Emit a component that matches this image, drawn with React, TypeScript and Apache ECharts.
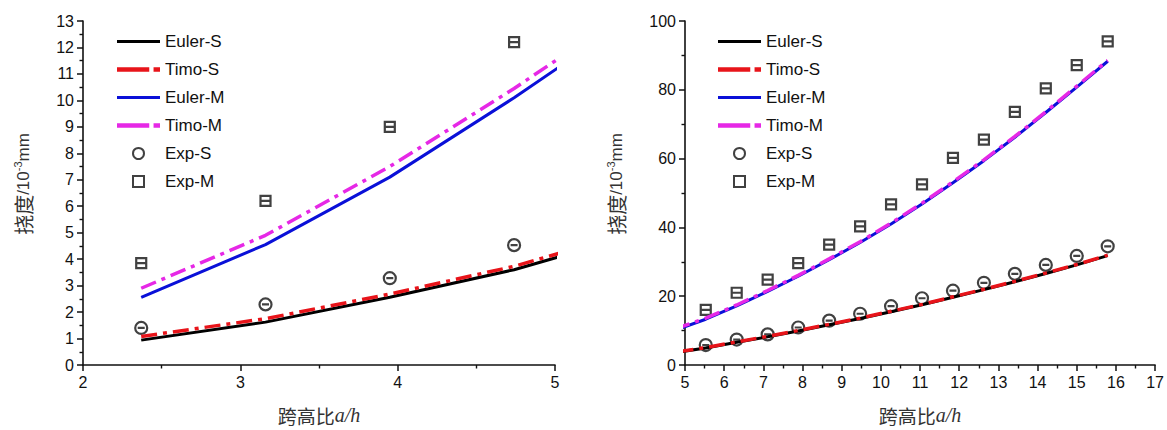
import React, { useEffect, useRef } from 'react';
import * as echarts from 'echarts';

// span-to-depth ratio a/h of the tested beams
const spanRatio = [2.37, 3.16, 3.95, 4.74, 5.53, 6.32, 7.11, 7.89, 8.68, 9.47, 10.26, 11.05, 11.84, 12.63, 13.42, 14.21, 15.0, 15.79];
// deflection, 10^-3 mm
const eulerS = [0.94, 1.62, 2.56, 3.6, 4.95, 6.6, 8.2, 9.9, 11.7, 13.5, 15.5, 17.5, 19.7, 21.9, 24.2, 26.6, 29.1, 31.8];
const timoS = [1.08, 1.75, 2.68, 3.73, 5.08, 6.72, 8.33, 10.02, 11.82, 13.62, 15.62, 17.62, 19.82, 22.02, 24.32, 26.72, 29.22, 31.92];
const eulerM = [2.56, 4.55, 7.1, 10.1, 13.3, 17.2, 21.4, 25.8, 30.6, 35.6, 41.0, 46.8, 53.0, 59.4, 66.2, 73.4, 80.8, 88.3];
const timoM = [2.9, 4.9, 7.5, 10.45, 13.6, 17.45, 21.65, 26.05, 30.85, 35.85, 41.25, 47.05, 53.25, 59.65, 66.45, 73.65, 81.05, 88.55];
const expS = [1.4, 2.29, 3.28, 4.53, 5.8, 7.4, 8.9, 10.9, 12.9, 14.9, 17.1, 19.4, 21.6, 23.9, 26.5, 29.1, 31.7, 34.5];
const expM = [3.85, 6.2, 9.0, 12.2, 16.0, 21.0, 24.8, 29.6, 35.0, 40.3, 46.7, 52.5, 60.2, 65.5, 73.6, 80.4, 87.2, 94.1];

const seriesNames = ['Euler-S', 'Timo-S', 'Euler-M', 'Timo-M', 'Exp-S', 'Exp-M'];

// axis ranges
const leftX = { min: 2, max: 5, interval: 1 };
const leftY = { min: 0, max: 13, interval: 1 };
const rightX = { min: 5, max: 17, interval: 1 };
const rightY = { min: 0, max: 100, interval: 20 };

const BLACK = '#000000';
const RED = '#e8141a';
const BLUE = '#0a10d8';
const MAGENTA = '#e628e6';
const INK = '#111111';
const SANS = '"Liberation Sans", Arial, sans-serif';
const CJK = '"Noto Sans CJK SC", sans-serif';

const DASH_DOT = [16, 6, 4, 6];
const CIRCLE_SYM = 'path://M0,6 A6,6 0 1 1 12,6 A6,6 0 1 1 0,6 Z M2.5,6 L9.5,6';
const SQUARE_SYM = 'path://M0,0 L10,0 L10,10 L0,10 Z M0,5 L10,5';
const SOLID_ICON = 'path://M0,0 H43 V3 H0 Z';
const DASHDOT_ICON = 'path://M0,0 H30 V4 H0 Z M34,0 H40 V4 H34 Z';
const SQUARE_ICON = 'path://M0,0 H10 V10 H0 Z';

const pairs = (xs: number[], ys: number[]) => xs.map((x, i) => [x, ys[i]]);

function buildSeries(idx: number) {
  const common = { xAxisIndex: idx, yAxisIndex: idx, clip: true, silent: true };
  return [
    { ...common, name: seriesNames[0], type: 'line', symbol: 'none', data: pairs(spanRatio, eulerS), itemStyle: { color: BLACK }, lineStyle: { color: BLACK, width: 3 } },
    { ...common, name: seriesNames[1], type: 'line', symbol: 'none', data: pairs(spanRatio, timoS), itemStyle: { color: RED }, lineStyle: { color: RED, width: 3.5, type: DASH_DOT, cap: 'butt' } },
    { ...common, name: seriesNames[2], type: 'line', symbol: 'none', data: pairs(spanRatio, eulerM), itemStyle: { color: BLUE }, lineStyle: { color: BLUE, width: 3 } },
    { ...common, name: seriesNames[3], type: 'line', symbol: 'none', data: pairs(spanRatio, timoM), itemStyle: { color: MAGENTA }, lineStyle: { color: MAGENTA, width: 3.5, type: DASH_DOT, cap: 'butt' } },
    { ...common, name: seriesNames[4], type: 'scatter', symbol: CIRCLE_SYM, symbolSize: 12, data: pairs(spanRatio, expS), itemStyle: { color: 'rgba(0,0,0,0)', borderColor: INK, borderWidth: 2.2 } },
    { ...common, name: seriesNames[5], type: 'scatter', symbol: SQUARE_SYM, symbolSize: 10, data: pairs(spanRatio, expM), itemStyle: { color: 'rgba(0,0,0,0)', borderColor: INK, borderWidth: 2.2 } },
  ];
}

const legendData = [
  { name: seriesNames[0], icon: SOLID_ICON, itemStyle: { color: BLACK, borderWidth: 0 } },
  { name: seriesNames[1], icon: DASHDOT_ICON, itemStyle: { color: RED, borderWidth: 0 } },
  { name: seriesNames[2], icon: SOLID_ICON, itemStyle: { color: BLUE, borderWidth: 0 } },
  { name: seriesNames[3], icon: DASHDOT_ICON, itemStyle: { color: MAGENTA, borderWidth: 0 } },
  { name: seriesNames[4], icon: 'circle', itemStyle: { color: 'rgba(0,0,0,0)', borderColor: INK, borderWidth: 2 } },
  { name: seriesNames[5], icon: SQUARE_ICON, itemStyle: { color: 'rgba(0,0,0,0)', borderColor: INK, borderWidth: 2 } },
];

function buildLegend(left: number) {
  return {
    left, top: 33, orient: 'vertical', padding: 0,
    itemWidth: 43, itemHeight: 11, itemGap: 11,
    selectedMode: false,
    data: legendData,
    textStyle: { fontSize: 17, color: INK, fontFamily: SANS },
  };
}

const axisCommon = {
  type: 'value',
  splitLine: { show: false },
  axisLine: { onZero: false, lineStyle: { color: INK, width: 1.6 } },
  axisTick: { length: 6, lineStyle: { color: INK, width: 1.5 } },
  minorTick: { show: true, splitNumber: 2, length: 3.5, lineStyle: { color: INK, width: 1.4 } },
  axisLabel: { fontSize: 16, color: INK, fontFamily: SANS, margin: 9 },
};

const xName = {
  name: '{c|跨高比}{i|a/h}',
  nameLocation: 'middle',
  nameGap: 40,
  nameTextStyle: {
    rich: {
      c: { fontSize: 19, fontFamily: CJK, color: '#333' },
      i: { fontSize: 20, fontFamily: '"Liberation Serif", serif', fontStyle: 'italic', color: '#333' },
    },
  },
};

const yNameRich = {
  c: { fontSize: 20, fontFamily: CJK, color: '#333', lineHeight: 22 },
  n: { fontSize: 17, fontFamily: SANS, color: '#333', lineHeight: 22 },
  s: { fontSize: 11, fontFamily: SANS, color: '#333', verticalAlign: 'top', lineHeight: 22 },
};

function yName(gap: number) {
  return {
    name: '{c|挠度}{n|/10}{s|-3}{n|mm}',
    nameLocation: 'middle',
    nameGap: gap,
    nameTextStyle: { rich: yNameRich, padding: [0, 0, 0, 18] },
  };
}

export default function App() {
  const ref = useRef<HTMLDivElement>(null);
  useEffect(() => {
    if (!ref.current) return;
    const chart = echarts.init(ref.current, undefined, { renderer: 'svg' });
    chart.setOption({
      animation: false,
      backgroundColor: '#ffffff',
      grid: [
        { left: 83, top: 21, width: 472, height: 352 },
        { left: 685, top: 21, width: 474, height: 352 },
      ],
      xAxis: [
        { ...axisCommon, gridIndex: 0, ...leftX, ...xName },
        { ...axisCommon, gridIndex: 1, ...rightX, ...xName },
      ],
      yAxis: [
        { ...axisCommon, gridIndex: 0, ...leftY, ...yName(49) },
        { ...axisCommon, gridIndex: 1, ...rightY, ...yName(58) },
      ],
      legend: [buildLegend(117), buildLegend(718)],
      series: [...buildSeries(0), ...buildSeries(1)],
    });
    return () => chart.dispose();
  }, []);
  return <div ref={ref} style={{ position: 'absolute', left: 0, top: 0, width: 1167, height: 430 }} />;
}
